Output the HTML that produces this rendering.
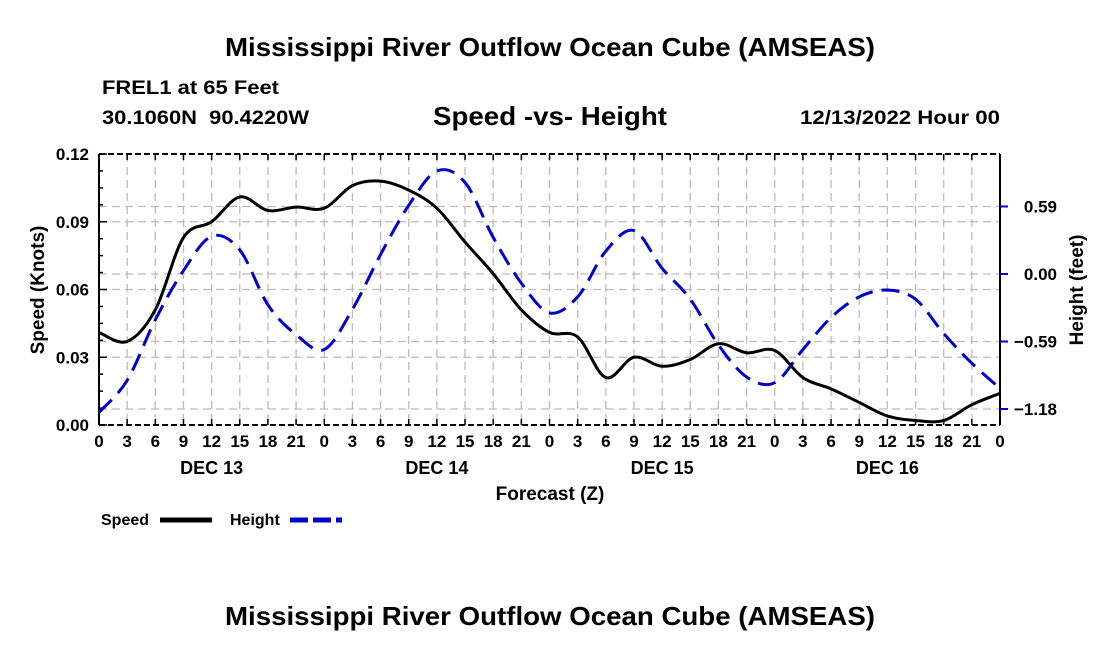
<!DOCTYPE html>
<html><head><meta charset="utf-8"><style>
body{margin:0;background:#fff;width:1100px;height:650px;overflow:hidden;font-family:"Liberation Sans",sans-serif}
svg text{font-family:"Liberation Sans",sans-serif;font-weight:bold}
</style></head><body>
<svg id="c" width="1100" height="650">
<text x="550" y="56" text-anchor="middle" font-size="26" textLength="650" lengthAdjust="spacingAndGlyphs">Mississippi River Outflow Ocean Cube (AMSEAS)</text>
<text x="102" y="94" font-size="19" textLength="177" lengthAdjust="spacingAndGlyphs">FREL1 at 65 Feet</text>
<text x="102" y="124" font-size="19" textLength="207" lengthAdjust="spacingAndGlyphs" xml:space="preserve">30.1060N  90.4220W</text>
<text x="550" y="125" text-anchor="middle" font-size="26" textLength="234" lengthAdjust="spacingAndGlyphs">Speed -vs- Height</text>
<text x="1000" y="124" text-anchor="end" font-size="19" textLength="200" lengthAdjust="spacingAndGlyphs">12/13/2022 Hour 00</text>
<text x="550" y="625" text-anchor="middle" font-size="26" textLength="650" lengthAdjust="spacingAndGlyphs">Mississippi River Outflow Ocean Cube (AMSEAS)</text>
<g id="grid"></g><g id="axes"></g><g id="series"></g>
<text x="550" y="500" text-anchor="middle" font-size="19">Forecast (Z)</text>
<text transform="translate(44,290) rotate(-90)" text-anchor="middle" font-size="19">Speed (Knots)</text>
<text transform="translate(1083,290) rotate(-90)" text-anchor="middle" font-size="19">Height (feet)</text>
<g>
<text x="101" y="525" font-size="16">Speed</text>
<line x1="160" y1="520" x2="212" y2="520" stroke="#000" stroke-width="5"/>
<text x="230" y="525" font-size="16">Height</text>
<line x1="290" y1="520" x2="342" y2="520" stroke="#00c" stroke-width="5" stroke-dasharray="18,5"/>
</g>
</svg>
<script>
const hours=[0,3,6,9,12,15,18,21,24,27,30,33,36,39,42,45,48,51,54,57,60,63,66,69,72,75,78,81,84,87,90,93,96];
const speed=[0.041,0.037,0.051,0.083,0.09,0.101,0.095,0.0965,0.096,0.106,0.108,0.104,0.096,0.081,0.067,0.051,0.041,0.039,0.021,0.030,0.026,0.029,0.036,0.032,0.033,0.021,0.016,0.010,0.004,0.002,0.002,0.009,0.014];
const height=[-1.21,-0.93,-0.40,0.03,0.33,0.21,-0.27,-0.53,-0.66,-0.31,0.17,0.60,0.90,0.80,0.32,-0.08,-0.34,-0.20,0.20,0.38,0.05,-0.22,-0.62,-0.90,-0.95,-0.66,-0.38,-0.20,-0.14,-0.22,-0.52,-0.78,-1.0];
const speedTicks=[0,0.03,0.06,0.09,0.12];
const speedTickLabels=["0.00","0.03","0.06","0.09","0.12"];
const heightTicks=[-1.18,-0.59,0,0.59];
const heightTickLabels=["\u22121.18","\u22120.59","0.00","0.59"];
const hourLabels=["0","3","6","9","12","15","18","21"];
const dayLabels=["DEC 13","DEC 14","DEC 15","DEC 16"];
const X0=99,X1=1000,Y0=425,Y1=154;
const xs=h=>X0+(h/96)*(X1-X0);
const ys=v=>Y0-(v/0.12)*(Y0-Y1);
const yh=v=>274-v*114.4;
const NS="http://www.w3.org/2000/svg";
function mk(p,t,a){const e=document.createElementNS(NS,t);for(const k in a)e.setAttribute(k,a[k]);p.appendChild(e);return e;}
const grid=document.getElementById('grid'),axes=document.getElementById('axes'),ser=document.getElementById('series');
for(let h=3;h<96;h+=3){const l=mk(grid,'line',{x1:xs(h),x2:xs(h),y1:Y1,y2:Y0,stroke:'#bbb','stroke-width':1.3,'stroke-dasharray':'8,5'});

}
speedTicks.slice(1,4).forEach(v=>{const l=mk(grid,'line',{x1:X0,x2:X1,y1:ys(v),y2:ys(v),stroke:'#bbb','stroke-width':1.3,'stroke-dasharray':'8,5'});

});
heightTicks.forEach(v=>{const l=mk(grid,'line',{x1:X0,x2:X1,y1:yh(v),y2:yh(v),stroke:'#bbb','stroke-width':1.3,'stroke-dasharray':'8,5'});

});
mk(axes,'line',{x1:X0,x2:X0,y1:Y1,y2:Y0,stroke:'#000','stroke-width':2});
mk(axes,'line',{x1:X1,x2:X1,y1:Y1,y2:Y0,stroke:'#000','stroke-width':2});
mk(axes,'line',{x1:X0,x2:X1,y1:Y0,y2:Y0,stroke:'#000','stroke-width':2,'stroke-dasharray':'6,3'});
mk(axes,'line',{x1:X0,x2:X1,y1:Y1,y2:Y1,stroke:'#000','stroke-width':2,'stroke-dasharray':'6,3'});
for(let h=0;h<=96;h+=3){mk(axes,'line',{x1:xs(h),x2:xs(h),y1:Y0,y2:Y0-6,stroke:'#000','stroke-width':1.5});
mk(axes,'line',{x1:xs(h),x2:xs(h),y1:Y1,y2:Y1+6,stroke:'#000','stroke-width':1.5});
const t=mk(axes,'text',{x:xs(h),y:Y0+22,'text-anchor':'middle','font-size':17});
t.textContent=h===96?"0":hourLabels[(h%24)/3];

}
dayLabels.forEach((d,i)=>{const t=mk(axes,'text',{x:xs(12+24*i),y:Y0+49,'text-anchor':'middle','font-size':18});t.textContent=d;

});
for(let v=0;v<=0.1201;v+=0.0075){mk(axes,'line',{x1:X0,x2:X0+(Math.round(v/0.0075)%4==0?8:4),y1:ys(v),y2:ys(v),stroke:'#000','stroke-width':1.5});}
speedTicks.forEach((v,i)=>{const t=mk(axes,'text',{x:X0-10,y:ys(v)+6,'text-anchor':'end','font-size':17});t.textContent=speedTickLabels[i];

});
heightTicks.forEach((v,i)=>{mk(axes,'line',{x1:X1,x2:X1+8,y1:yh(v),y2:yh(v),stroke:'#00c','stroke-width':2});
const t=mk(axes,'text',{x:1057,y:yh(v)+6,'text-anchor':'end','font-size':17});t.textContent=heightTickLabels[i];

});
function path(pts){let d=`M${pts[0][0]},${pts[0][1]}`;for(let i=0;i<pts.length-1;i++){const p0=pts[Math.max(0,i-1)],p1=pts[i],p2=pts[i+1],p3=pts[Math.min(pts.length-1,i+2)];
d+=` C${p1[0]+(p2[0]-p0[0])/6},${p1[1]+(p2[1]-p0[1])/6} ${p2[0]-(p3[0]-p1[0])/6},${p2[1]-(p3[1]-p1[1])/6} ${p2[0]},${p2[1]}`;}return d;}
const hp=mk(ser,'path',{d:path(hours.map((h,i)=>[xs(h),yh(height[i])])),fill:'none',stroke:'#00c','stroke-width':3,'stroke-dasharray':'18,9'});


const sp=mk(ser,'path',{d:path(hours.map((h,i)=>[xs(h),ys(speed[i])])),fill:'none',stroke:'#000','stroke-width':3});


</script>
</body></html>
